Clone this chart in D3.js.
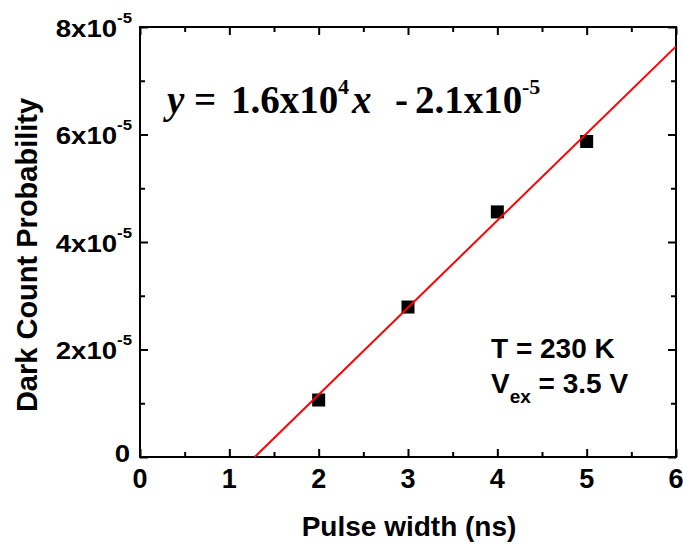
<!DOCTYPE html>
<html><head><meta charset="utf-8">
<script src="https://cdn.jsdelivr.net/npm/d3@7"></script>
<style>body{margin:0;background:#fff;} svg{display:block;}</style>
</head><body>
<script>
const pulseWidth = [2, 3, 4, 5];
const darkCount = [1.06e-5, 2.79e-5, 4.56e-5, 5.87e-5];
const fitSlope = 1.62e-5;      // per ns
const fitIntercept = -2.08e-5;
const xTicks = [0, 1, 2, 3, 4, 5, 6];
const yTicks = [0, 2e-5, 4e-5, 6e-5, 8e-5];
const yTickMant = ["0", "2x10", "4x10", "6x10", "8x10"];

const W = 683, H = 544;
const svg = d3.select("body").append("svg").attr("width", W).attr("height", H);
const x = d3.scaleLinear().domain([0, 6]).range([140, 676]);
const y = d3.scaleLinear().domain([0, 8e-5]).range([457, 27]);

const sans = "Arial, 'Liberation Sans', Helvetica, sans-serif";
const serif = "'Times New Roman', 'Liberation Serif', serif";

function tickAxes() {
  const xMinor = d3.range(0, 6.01, 0.5).filter(v => Math.abs(v - Math.round(v)) > 1e-9);
  const yMinor = d3.range(1e-5, 8e-5, 2e-5);
  const g = svg.append("g");
  const specs = [
    [d3.axisBottom(x), `translate(0,${y(0)})`, xTicks, xMinor],
    [d3.axisTop(x), `translate(0,${y(8e-5)})`, xTicks, xMinor],
    [d3.axisLeft(y), `translate(${x(0)},0)`, yTicks, yMinor],
    [d3.axisRight(y), `translate(${x(6)},0)`, yTicks, yMinor]
  ];
  specs.forEach(([ax, tr, major, minor]) => {
    g.append("g").attr("transform", tr)
      .call(ax.tickValues(major).tickSize(-8).tickFormat(""))
      .call(a => a.select(".domain").remove());
    g.append("g").attr("transform", tr)
      .call(ax.tickValues(minor).tickSize(-5).tickFormat(""))
      .call(a => a.select(".domain").remove());
  });
  g.selectAll(".tick line").attr("stroke", "#000").attr("stroke-width", 2);
  svg.append("rect").attr("x", x(0)).attr("y", y(8e-5))
    .attr("width", x(6) - x(0)).attr("height", y(0) - y(8e-5))
    .attr("fill", "none").attr("stroke", "#000").attr("stroke-width", 2);
}
tickAxes();

// x tick labels
svg.append("g").selectAll("text").data(xTicks).join("text")
  .attr("x", d => x(d)).attr("y", 488)
  .attr("text-anchor", "middle")
  .attr("font-family", sans).attr("font-weight", "bold").attr("font-size", 27)
  .text(d => d);

// y tick labels
const yl = svg.append("g").selectAll("g").data(yTicks).join("g")
  .attr("transform", (d, i) => `translate(${i === 0 ? 130 : 132},${y(d) + (i === 0 ? 5 : 9.5)}) scale(1.2,1)`);
yl.each(function(d, i) {
  const t = d3.select(this).append("text")
    .attr("text-anchor", "end")
    .attr("font-family", sans).attr("font-weight", "bold").attr("font-size", 23);
  t.append("tspan").text(yTickMant[i]);
  if (i > 0) t.append("tspan").attr("font-size", 14).attr("dy", -14).text("-5");
});

// axis titles
svg.append("text").attr("x", 409).attr("y", 536).attr("text-anchor", "middle")
  .attr("font-family", sans).attr("font-weight", "bold").attr("font-size", 28)
  .text("Pulse width (ns)");
svg.append("text").attr("transform", "translate(37,255) rotate(-90)").attr("text-anchor", "middle")
  .attr("font-family", sans).attr("font-weight", "bold").attr("font-size", 29)
  .text("Dark Count Probability");

svg.append("clipPath").attr("id", "clip").append("rect")
  .attr("x", x(0)).attr("y", y(8e-5)).attr("width", x(6) - x(0)).attr("height", y(0) - y(8e-5));

// data points
svg.append("g").selectAll("rect").data(pulseWidth).join("rect")
  .attr("x", d => x(d) - 6.5).attr("y", (d, i) => y(darkCount[i]) - 6.5)
  .attr("width", 13).attr("height", 13).attr("fill", "#000");

// fit line
const x0 = -fitIntercept / fitSlope;
const fitX = [x0, 6];
svg.append("path").attr("clip-path", "url(#clip)")
  .datum(fitX)
  .attr("d", d3.line().x(d => x(d)).y(d => y(fitSlope * d + fitIntercept)))
  .attr("stroke", "#ff0000").attr("stroke-width", 2).attr("fill", "none");

// equation
const eq = svg.append("text").attr("y", 113)
  .attr("font-family", serif).attr("font-weight", "bold").attr("font-size", 39);
eq.append("tspan").attr("x", 167).attr("font-style", "italic").text("y");
eq.append("tspan").attr("x", 194).text("=");
eq.append("tspan").attr("x", 231).text("1.6x10");
eq.append("tspan").attr("x", 338).attr("font-size", 22).attr("dy", -19).text("4");
eq.append("tspan").attr("x", 352).attr("font-style", "italic").attr("dy", 19).text("x");
eq.append("tspan").attr("x", 395).text("-");
eq.append("tspan").attr("x", 415).text("2.1x10");
eq.append("tspan").attr("x", 522).attr("font-size", 22).attr("dy", -19).text("-5");

// conditions
svg.append("text").attr("x", 491).attr("y", 358)
  .attr("font-family", sans).attr("font-weight", "bold").attr("font-size", 28)
  .text("T = 230 K");
const v = svg.append("text").attr("x", 491).attr("y", 393)
  .attr("font-family", sans).attr("font-weight", "bold").attr("font-size", 28);
v.append("tspan").text("V");
v.append("tspan").attr("font-size", 19).attr("dy", 10).text("ex");
v.append("tspan").attr("dy", -10).text(" = 3.5 V");
</script>
</body></html>
